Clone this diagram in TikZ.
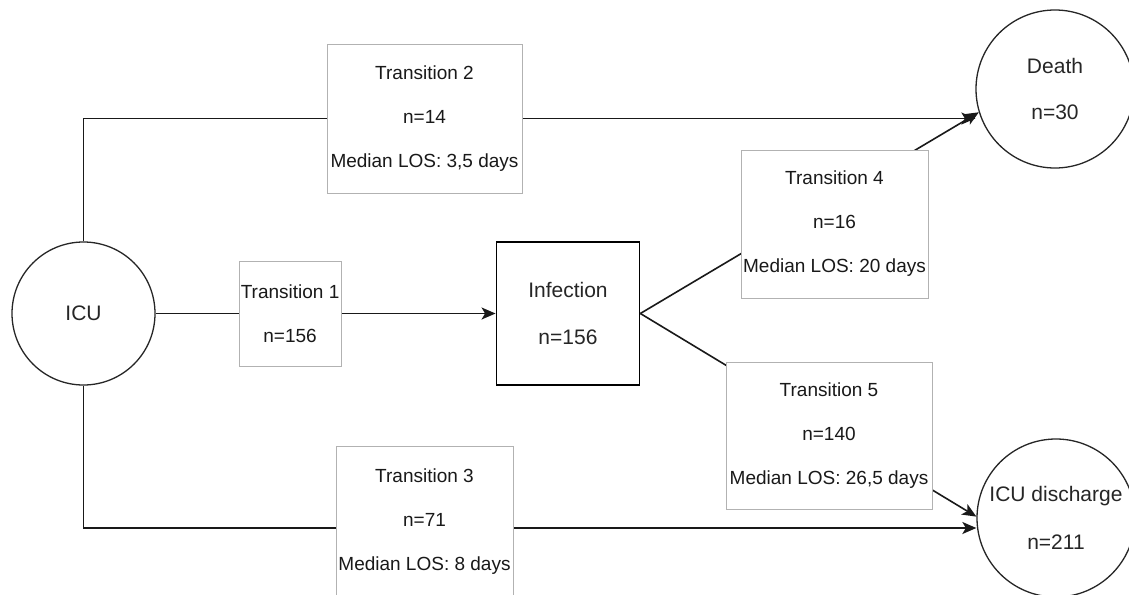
\documentclass[tikz,border=0pt]{standalone}
\usepackage{fontspec}
\setmainfont{Liberation Sans}
\usetikzlibrary{arrows.meta,positioning,backgrounds}

\begin{document}
\begin{tikzpicture}[
        x=1pt, y=-1pt,
        stcirc/.style={circle, draw=black!85, line width=1.3pt, fill=white,
          inner sep=0pt, minimum size=158pt, align=center, text=black!85,
          font=\fontsize{21}{24}\selectfont},
        stbox/.style={rectangle, draw=black, line width=1.8pt, fill=white,
          inner sep=0pt, minimum width=143pt, minimum height=143pt, align=center,
          text=black!85, font=\fontsize{21}{24}\selectfont},
        trbox/.style={rectangle, draw=black!30, line width=0.9pt, fill=white,
          inner sep=0pt, align=center, text=black!90,
          font=\fontsize{19}{22}\selectfont},
        conn/.style={draw=black!90, line width=1.6pt},
        arr/.style={conn, -{Stealth[length=14pt,width=12pt,inset=3.5pt]}}
      ]
        \useasboundingbox (0,0) rectangle (1129,594);
        \clip (0,0) rectangle (1129,594);
        \node[stcirc, minimum size=143pt] (icu) at (83.5,313.5) {ICU};
        \node[trbox, minimum width=102pt, minimum height=105pt, right=83pt of icu] (t1)
          {Transition 1\\[22pt]n=156};
        \node[stbox, right=154pt of t1] (inf) {Infection\\[23pt]n=156};
        \node[trbox, minimum width=195pt, minimum height=149pt] (t2) at (424.5,118.5)
          {Transition 2\\[22pt]n=14\\[22pt]Median LOS: 3,5 days};
        \node[trbox, minimum width=177pt, minimum height=152pt] (t3) at (424.5,522)
          {Transition 3\\[22pt]n=71\\[22pt]Median LOS: 8 days};
        \node[trbox, minimum width=187pt, minimum height=148pt] (t4) at (834.5,224)
          {Transition 4\\[22pt]n=16\\[22pt]Median LOS: 20 days};
        \node[trbox, minimum width=206pt, minimum height=147pt] (t5) at (829,435.5)
          {Transition 5\\[22pt]n=140\\[22pt]Median LOS: 26,5 days};
        \node[stcirc] (death) at (1055,89) {Death\\[22pt]n=30};
        \node[stcirc] (dis) at (1056,518) {ICU discharge\\[24pt]n=211};
        \begin{scope}[on background layer]
          \draw[conn] (icu.north) |- (t2.west);
          \draw[arr] (t2.east) -- (t2.east -| death.west);
          \draw[conn] (icu.east) -- (t1.west);
          \draw[arr] (t1.east) -- (inf.west);
          \draw[conn] (icu.south) |- ([yshift=-6pt]t3.west);
          \draw[arr] ([yshift=-6pt]t3.east) -- ([yshift=-6pt]t3.east -| dis.west);
          \draw[arr] (inf.east) -- (death.197);
          \draw[arr] (inf.east) -- (dis.179);
        \end{scope}
      \end{tikzpicture}
\end{document}
